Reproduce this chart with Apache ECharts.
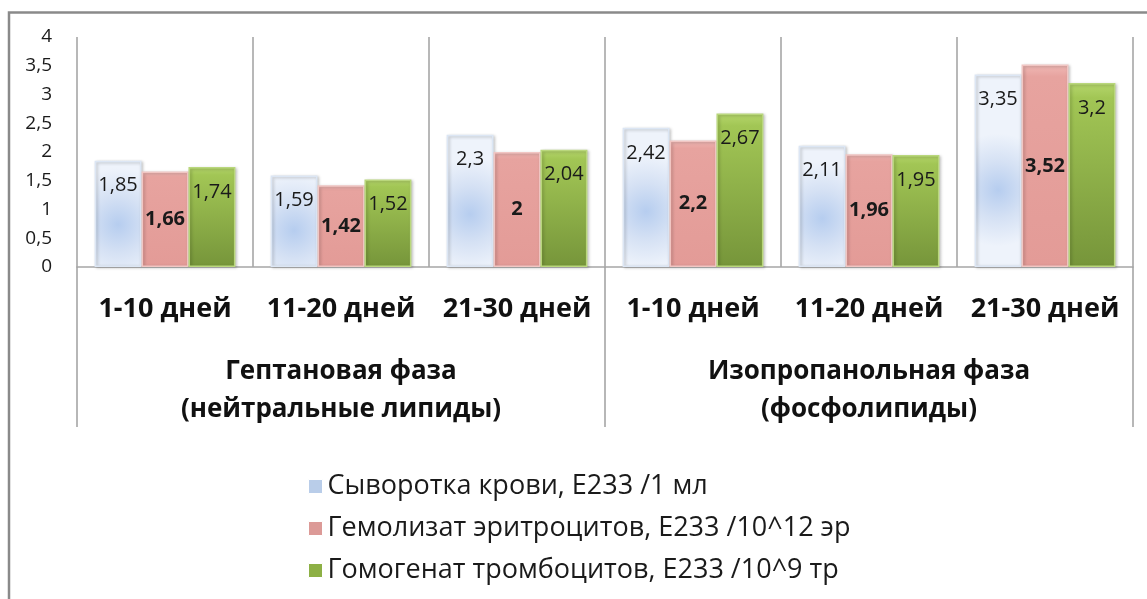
<!DOCTYPE html>
<html>
<head>
<meta charset="utf-8">
<script src="https://cdn.jsdelivr.net/npm/echarts@6/dist/echarts.min.js"></script>
<style>
  html, body { margin: 0; padding: 0; background: #ffffff; }
  #chart { width: 1147px; height: 599px; }
</style>
</head>
<body>
<div id="chart"></div>
<script>
// Periods within each extraction phase
const periods = ['1-10 дней', '11-20 дней', '21-30 дней', '1-10 дней', '11-20 дней', '21-30 дней'];
// Extraction phases (outer category level)
const phases = ['Гептановая фаза\n(нейтральные липиды)', 'Изопропанольная фаза\n(фосфолипиды)'];
// Series names
const seriesNames = [
  'Сыворотка крови, Е233 /1 мл',
  'Гемолизат эритроцитов, Е233 /10^12 эр',
  'Гомогенат тромбоцитов, Е233 /10^9 тр'
];
// Values
const serum = [1.85, 1.59, 2.3, 2.42, 2.11, 3.35];
const erythro = [1.66, 1.42, 2, 2.2, 1.96, 3.52];
const platelets = [1.74, 1.52, 2.04, 2.67, 1.95, 3.2];

const FONT = '"Open Sans", "Noto Sans", sans-serif';
const comma = v => String(v).replace('.', ',');

const fills = [
  { type: 'radial', x: 0.5, y: 0.6, r: 1.2,
    colorStops: [{ offset: 0, color: '#b6cdef' }, { offset: 0.5, color: '#d5e1f4' }, { offset: 1, color: '#eef3fb' }] },
  { type: 'linear', x: 0, y: 0, x2: 0, y2: 1,
    colorStops: [{ offset: 0, color: '#f0b9b6' }, { offset: 0.06, color: '#e7a39f' }, { offset: 1, color: '#e39b97' }] },
  { type: 'linear', x: 0, y: 0, x2: 0, y2: 1,
    colorStops: [{ offset: 0, color: '#b5d66c' }, { offset: 0.08, color: '#a2c655' }, { offset: 1, color: '#76953a' }] }
];
const borders = ['#dce6f4', '#f1c6c3', '#b9d77c'];
const legendIcons = ['#b9cde9', '#dc9a97', '#8db045'];

function barSeries(idx, data, labelPos, bold) {
  return {
    name: seriesNames[idx],
    type: 'bar',
    data: data,
    barCategoryGap: '20%',
    barGap: '0%',
    itemStyle: {
      color: fills[idx],
      borderColor: borders[idx],
      borderWidth: 1.5,
      shadowBlur: 3,
      shadowColor: 'rgba(0,0,0,0.25)',
      shadowOffsetX: 1.5,
      shadowOffsetY: 1
    },
    label: {
      show: true,
      position: labelPos,
      distance: 15,
      fontFamily: FONT,
      fontSize: 20,
      fontWeight: bold ? 'bold' : 'normal',
      color: '#1a1a1a',
      formatter: p => comma(p.value)
    }
  };
}

const chart = echarts.init(document.getElementById('chart'), null, { renderer: 'canvas' });
chart.setOption({
  backgroundColor: '#ffffff',
  animation: false,
  textStyle: { fontFamily: FONT },
  grid: { left: 77, right: 14, top: 37, bottom: 332 },
  legend: {
    orient: 'vertical',
    left: 303,
    top: 468,
    itemWidth: 14,
    itemHeight: 14,
    itemGap: 15,
    icon: 'rect',
    textStyle: { fontFamily: FONT, fontSize: 27, color: '#1a1a1a', lineHeight: 27 },
    data: seriesNames.map((n, i) => ({ name: n, itemStyle: { color: legendIcons[i], borderColor: '#ffffff', borderWidth: 1 } }))
  },
  xAxis: [
    {
      type: 'category',
      data: periods,
      position: 'bottom',
      axisLine: { show: true, lineStyle: { color: '#a6a6a6', width: 1.5 } },
      axisTick: { show: false },
      splitLine: { show: true, interval: 0, lineStyle: { color: '#a0a0a0', width: 1.5 } },
      axisLabel: { interval: 0, margin: 29, fontFamily: FONT, fontSize: 27, fontWeight: 'bold', color: '#111111' }
    },
    {
      type: 'category',
      data: phases,
      position: 'bottom',
      axisLine: { show: false },
      axisTick: { show: true, length: 160, lineStyle: { color: '#a0a0a0', width: 1.5 } },
      axisLabel: { interval: 0, margin: 86, fontFamily: FONT, fontSize: 26, fontWeight: 'bold', color: '#111111', lineHeight: 38 }
    }
  ],
  yAxis: {
    type: 'value',
    min: 0,
    max: 4,
    interval: 0.5,
    axisLine: { show: false },
    axisTick: { show: false },
    splitLine: { show: false },
    axisLabel: { margin: 25, fontFamily: FONT, fontSize: 19, color: '#1a1a1a', formatter: v => comma(v) }
  },
  series: [
    barSeries(0, serum, 'insideTop', false),
    barSeries(1, erythro, 'inside', true),
    barSeries(2, platelets, 'insideTop', false)
  ],
  graphic: [
    {
      type: 'polyline',
      shape: { points: [[9, 599], [9, 12.5], [1147, 12.5]] },
      style: { stroke: '#8a8a8a', lineWidth: 2.5, fill: null },
      silent: true
    }
  ]
});
</script>
</body>
</html>
